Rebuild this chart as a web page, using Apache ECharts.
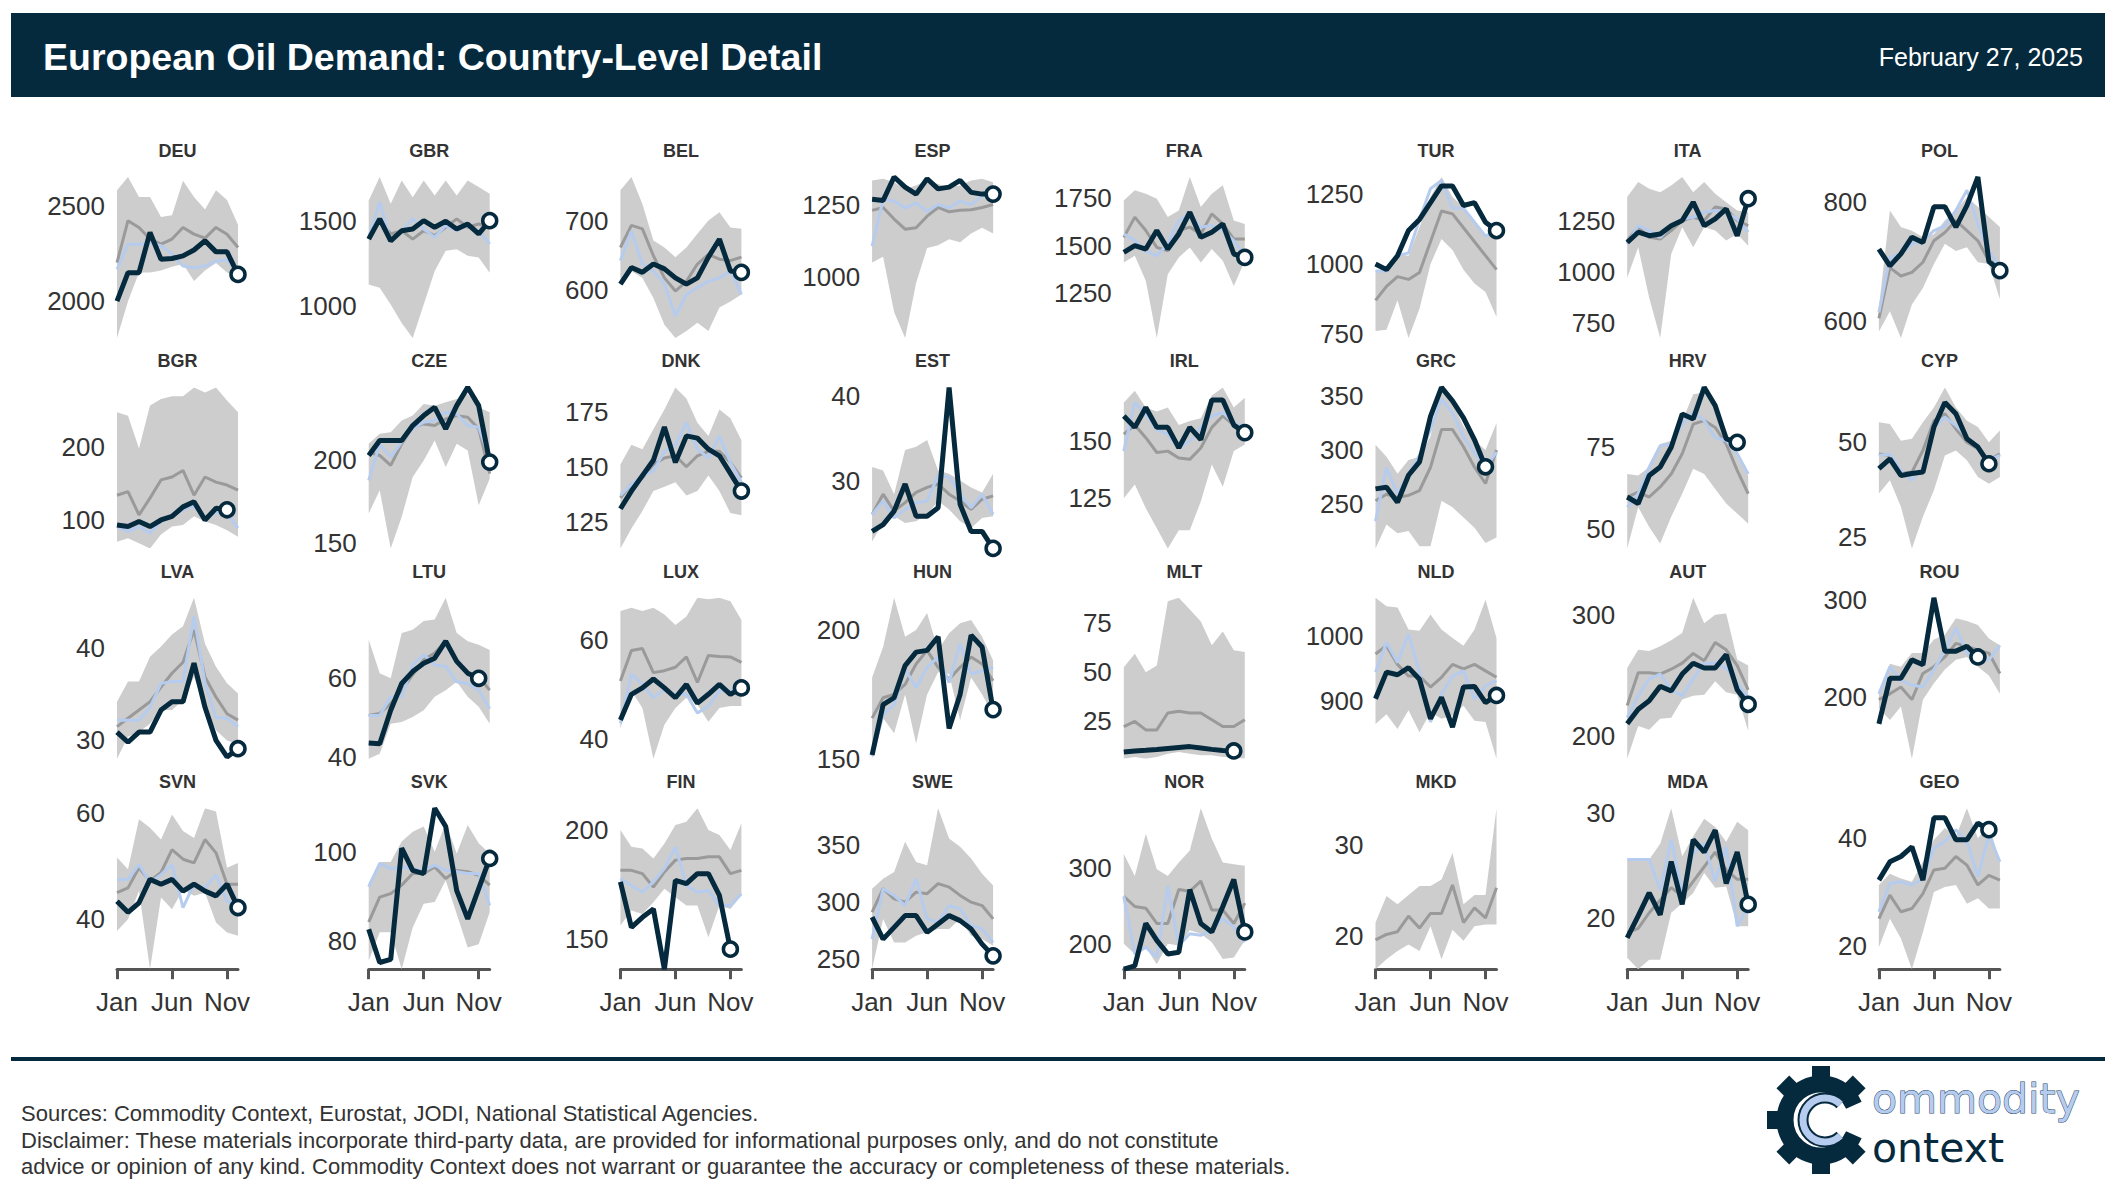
<!DOCTYPE html>
<html><head><meta charset="utf-8">
<script src="https://cdn.jsdelivr.net/npm/echarts@6/dist/echarts.min.js"></script>
<style>html,body{margin:0;padding:0;background:#fff}#c{width:2116px;height:1201px}</style>
</head><body><div id="c"></div>
<script>
const months = ['Jan','Feb','Mar','Apr','May','Jun','Jul','Aug','Sep','Oct','Nov','Dec'];
const xTickMonths = ['Jan','Jun','Nov'];
const countries = ['DEU','GBR','BEL','ESP','FRA','TUR','ITA','POL','BGR','CZE','DNK','EST','IRL','GRC','HRV','CYP','LVA','LTU','LUX','HUN','MLT','NLD','AUT','ROU','SVN','SVK','FIN','SWE','NOR','MKD','MDA','GEO'];
const yTicks = [[2000,2500],[1000,1500],[600,700],[1000,1250],[1250,1500,1750],[750,1000,1250],[750,1000,1250],[600,800],
  [100,200],[150,200],[125,150,175],[30,40],[125,150],[250,300,350],[50,75],[25,50],
  [30,40],[40,60],[40,60],[150,200],[25,50,75],[900,1000],[200,300],[200,300],
  [40,60],[80,100],[150,200],[250,300,350],[200,300],[20,30],[20,30],[20,40]];

// 5-year range, low edge
const bandLow = [
  [1807,2000,2150,2150,2160,2180,2195,2105,2160,2200,2150,2130],
  [1127,1108,1010,902,814,1010,1206,1324,1333,1294,1284,1196],
  [614,628,618,589,550,531,541,553,541,575,584,594],
  [1050,1070,880,790,980,1100,1110,1130,1120,1150,1170,1150],
  [1411,1447,1314,1012,1349,1438,1491,1411,1482,1420,1287,1420],
  [760,765,870,735,840,1000,1090,1050,980,930,900,810],
  [971,1119,873,676,1086,1217,1119,1217,1201,1152,1184,1127],
  [583,617,572,628,656,696,730,718,724,699,696,637],
  [70,75,68,61,80,91,93,105,98,93,86,77],
  [168,182,147,166,190,200,212,196,210,206,173,189],
  [113,122,130,139,141,143,137,139,146,139,129,128],
  [22.8,25,25.8,25,25.2,26,27.6,26.6,25.2,24.4,25.6,25.8],
  [125,131,120.6,111.8,103,111,111,123.5,139.7,130,145.6,148.5],
  [209,231,223,225,211,211,253,247,237.5,228,214,219],
  [43.9,56.6,50.5,45.4,53.6,60.7,68.4,66.8,62.2,57.7,54.6,51.5],
  [36.4,39.9,32.9,21.9,30.3,37.3,46.5,47.8,45.2,40.8,39,40.8],
  [28,30.4,30.9,31.8,33.3,33.3,34.4,36.9,33.6,31.1,30,29.6],
  [39.6,40.9,48.5,48.9,50.2,51.9,55.3,57,59.1,55.3,52.8,48.5],
  [42,49.7,46.2,35.9,42.8,46.2,48.3,46.9,43.4,46.2,46.6,46.6],
  [150,165.8,159.9,175,155.9,175,183.6,182.9,165.1,181.6,175,167.1],
  [6,6.9,6,6.9,8.6,9.5,8.6,7.8,7.8,6.9,6.9,6],
  [864,879,856,885,851,882,872,877,892,869,867,810],
  [181,208,205,214,215,230,233,234,245,236,234,204],
  [188,176,190,136,197,214,228,238,241,231,222,203],
  [37.8,40,45.3,30.6,44.1,41.9,45.6,44.4,45,39.4,37.5,36.9],
  [75.5,81.9,81.9,73.6,83,88.3,88.7,93.6,86,78.5,79.2,86.4],
  [156.2,163.1,161.5,166.9,173.1,169.2,165.4,165.4,150.8,165.4,163.8,170],
  [241.2,285.3,264.7,264.7,270.6,273.5,276.5,276.5,285.3,270.6,267.6,261.8],
  [200,186.7,195.6,173.3,200,197.8,217.8,213.3,202.2,180,182.2,204.4],
  [16.4,17.5,18.4,19.1,18.4,21.1,17.5,20.7,19.5,21.1,21.3,21.3],
  [16.2,15.1,16,16,20.5,21.4,22.4,24.3,22.9,23,19.2,19.2],
  [19.7,25,21.3,15.6,22.5,30,30.9,31.3,27.8,28.8,26.9,26.9]
];

// 5-year range, high edge
const bandHigh = [
  [2580,2650,2545,2545,2440,2450,2630,2545,2480,2580,2530,2400],
  [1618,1755,1598,1735,1637,1735,1647,1735,1647,1735,1696,1657],
  [745,764,725,672,662,648,662,682,701,713,691,689],
  [1333,1339,1327,1304,1316,1333,1321,1310,1316,1333,1339,1327],
  [1739,1793,1775,1748,1651,1686,1863,1704,1775,1819,1633,1615],
  [976,988,1036,1030,1132,1240,1312,1240,1204,1144,1096,1120],
  [1365,1438,1406,1389,1422,1463,1389,1438,1381,1340,1299,1291],
  [623,786,758,752,741,746,769,786,808,792,775,758],
  [248,243,198,257,266,270,270,282,275,282,264,248],
  [210,216,217,224,227,234,233,235,237,240,232,229],
  [151,160,158,167,176,186,181,170,164,176,172,162],
  [31.6,31.2,28.4,33.6,34,34.8,31.2,30.8,30,29.2,28.6,30.8],
  [166.9,172,164.7,163,164.7,157,158.8,160,170,173.5,164.7,169],
  [304.7,293.8,278,290.6,293.8,312.5,357.8,343.8,321.9,309,300,325],
  [66.8,66.3,68.9,76,77,83,91.3,91.8,87.2,80.1,72,66.3],
  [55.3,54.8,50.4,50.9,55.3,59.2,64.5,59.2,55.7,54,50,53.1],
  [34.2,36.4,36.4,39.1,40.2,41.5,42.4,45.5,40.5,38,36.2,35.1],
  [69.8,61.3,60,71.5,72.3,74.5,74.9,80.4,71.5,69.4,68.5,67.2],
  [65.9,66.6,65.9,66.6,65.2,63.1,64.8,68.6,68.3,68.6,67.9,64.1],
  [181.6,193.4,212.5,197.4,200,206.6,192.1,198.7,202.6,203.9,197.4,188.2],
  [52.6,59.5,50,53.4,86.2,87.9,81.9,75.9,63.8,70.7,61.2,60.3],
  [1059,1046,1044,1010,1008,1033,1010,997,985,1010,1056,997],
  [256,271,270,274,279,285,314,293,300,301,263,258],
  [205,234,231,245,245,259,264,281,278,274,260,253],
  [51.6,49.4,58.8,57.2,55,59.7,56.6,55.3,60.9,60.3,49.7,50.6],
  [93,97.7,97.7,102.3,104.5,105.7,100,106.4,99.6,106,101.9,99.6],
  [200,192.3,191.5,186.9,193.8,202.3,203.8,210,200,197.7,190.8,203.1],
  [311.8,320.6,326.5,353,335.3,332.4,382.4,355.9,348.5,338.2,325,314.7],
  [317.8,288.9,344.4,297.8,288.9,306.7,322.2,377.8,337.8,306.7,304.4,302.2],
  [21.5,24.4,23.5,24.5,25.5,25.5,26.2,29.1,23.5,24.5,24.5,34],
  [25.6,25.6,25.6,27.1,30.5,25.9,27.8,29.5,28.7,27.3,29.2,28.4],
  [31.3,33.4,32.5,31.9,35.6,39.7,41.9,40.3,45.6,40,42.5,35.6]
];

// 5-year average
const avg5y = [
  [2202,2421,2386,2325,2298,2325,2386,2351,2330,2386,2350,2281],
  [1402,1510,1422,1441,1392,1441,1412,1461,1510,1461,1480,1461],
  [662,694,689,650,618,599,613,638,652,645,643,648],
  [1230,1240,1200,1165,1170,1210,1240,1225,1230,1232,1240,1250],
  [1544,1651,1580,1491,1473,1580,1598,1562,1668,1615,1535,1535],
  [870,920,955,945,970,1080,1190,1180,1130,1080,1030,980],
  [1152,1217,1168,1160,1201,1250,1266,1250,1316,1307,1250,1225],
  [605,690,676,682,699,735,749,769,752,735,701,696],
  [134,139,107,130,155,159,168,134,159,152,148,141],
  [205,203,197,210,220,222,221,225,227,226,219,192],
  [136,142,145,151,154,155,150,155,157,157,152,145],
  [26,28.4,26.4,27.4,28.6,29.2,29.6,28.4,27.6,26.6,27.8,28.2],
  [153,157,151.5,145,145.6,142.6,142,147,156,161,157,154],
  [253,259,256,258,262.5,284,318.8,318.8,303,284,269,300],
  [59.7,61.2,59.7,62.8,66.8,73,82.1,83.2,81.1,76,67.9,60.7],
  [46.9,46.5,41.7,42.1,47.8,55.7,57.5,53.5,50,48.2,45.2,46.9],
  [31.5,32.4,33.3,34.2,35.8,37.3,38.5,42,36.9,34.7,32.9,32.2],
  [50.6,51.1,53.6,57,60.9,64.7,66.4,69.4,64.3,61.3,60.4,57],
  [51.7,57.9,58.3,53.4,53.8,54.5,56.6,51.4,56.9,56.7,56.6,55.5],
  [165.8,173.7,175,178.9,186.8,192.1,185.5,180.9,185.5,189.5,186.8,180.3],
  [22.4,25,20.7,20.7,29.3,30.2,29.3,29.3,25.9,22.4,22.4,25.9],
  [972,985,956,938,938,921,936,956,949,956,946,936],
  [225,252,252,251,255,260,268,262,277,271,258,238],
  [197,203,210,197,224,231,241,255,252,248,245,224],
  [45,45.9,49.7,47.2,48.8,53.1,51.3,50.6,55,52.5,46.6,46.6],
  [84.2,89.8,90.6,92.5,95.1,95.1,96.6,94,95.8,95.5,94.7,92.5],
  [181.5,181.5,180,173.8,180.8,186.2,186.9,186.9,187.7,187.7,180,181.5],
  [291.2,311.8,302.9,300,308.8,307.4,316.2,313.2,305.9,300,297,285.3],
  [262.2,248.9,246.7,226.7,226.7,271.1,268.9,282.2,244.4,244.4,226.7,253.3],
  [19.6,20.2,20.5,22.2,20.9,22.5,22.5,25.6,21.5,23.1,22,25.3],
  [18.6,19,20.5,21.7,22.9,22.1,23.5,24.9,26.3,24.6,23.7,23.7],
  [25,29.4,26.3,26.9,29.7,34.1,34.4,36.6,35,31.3,33.1,32.2]
];

// previous year
const prevYear = [
  [2167,2298,2298,2305,2290,2246,2184,2175,2184,2210,2215,2150],
  [1402,1608,1382,1441,1510,1451,1402,1471,1441,1471,1441,1363],
  [643,686,638,628,609,563,594,604,613,618,628,594],
  [1107,1268,1262,1238,1256,1226,1250,1238,1262,1250,1280,1286],
  [1562,1527,1473,1447,1509,1633,1668,1598,1607,1580,1527,1447],
  [975,975,1030,1040,1160,1270,1300,1200,1200,1150,1100,1120],
  [1135,1225,1201,1168,1225,1258,1266,1291,1299,1291,1258,1193],
  [615,707,713,730,735,752,760,786,820,763,718,690],
  [91,84,91,82,98,105,114,120,100,111,109,89],
  [188,210,202,211,219,223,224,229,228,221,220,201],
  [137,142,146,148,157,160,170,158,154,164,152,143],
  [26,27.6,25.6,26.6,27.4,27.6,30.6,30.4,28.4,26.8,28.4,26],
  [145.6,167,161.8,155,153,147,150,156,161,162.5,158,156],
  [234,284,259,278,295,318.8,347,334,312.5,297,284,298],
  [56.6,60.7,68.9,75.5,76,82.1,85.7,83.2,78,77,73,66.8],
  [46.5,46.9,42.5,39.9,43.4,54,56.6,54.4,51.3,48.2,45.2,46.5],
  [32.2,32.2,32.2,33.6,36.2,36.4,36.4,43.5,36.2,32.5,32.4,31.5],
  [50.6,50.6,55.3,55.3,63.4,66,63.4,63,59.1,58.7,57,52.3],
  [43.1,53.1,51,48.3,50,49,49,45.2,46.6,49.7,49.7,50.3],
  [151,167.1,171,184.9,177.6,185.5,189.5,179.6,194.7,182.9,184.2,185.5],
  null,
  [944,990,959,1003,944,867,910,938,946,902,923,931],
  [215,233,247,251,238,233,247,260,260,256,244,231],
  [203,231,217,212,210,228,248,271,245,241,238,253],
  [47.5,47.5,50.3,46.9,48.4,50.3,42.2,46.6,45.9,48.4,43.4,42.8],
  [92.1,97.4,96.2,96.6,96.2,95.8,97,95.8,95.5,95.1,95.1,87.9],
  [177.7,174.6,171.5,176.2,182.3,192.3,174.6,171.5,172.3,165.4,165.4,170.8],
  [267.6,311.8,305.9,297,320.6,285.3,282.4,297,294.1,279.4,276.5,264.7],
  [262.2,186.7,195.6,182.2,275.6,197.8,213.3,211.1,217.8,233.3,222.2,202.2],
  null,
  [25.6,25.6,25.6,22.7,27.5,22.4,26.2,27.1,23.5,26.8,19.2,21.1],
  [26.3,31.6,31.9,31.3,32.5,38.1,39.4,41.6,39.4,32.8,40.6,35.6]
];

// current year (2024)
const curYear = [
  [2000,2149,2149,2360,2219,2223,2237,2268,2316,2258,2258,2140],
  [1392,1510,1382,1441,1451,1500,1461,1496,1451,1480,1422,1500],
  [609,633,626,638,631,618,609,618,648,674,628,626],
  [1268,1264,1345,1310,1286,1339,1304,1310,1333,1292,1286,1286],
  [1465,1500,1482,1580,1482,1562,1677,1544,1571,1615,1456,1438],
  [1000,980,1030,1120,1160,1220,1280,1280,1210,1220,1150,1120],
  [1143,1193,1176,1184,1225,1250,1340,1225,1258,1307,1176,1357],
  [721,693,713,741,732,792,792,758,794,842,700,685],
  [93,91,98,91,100,105,118,125,100,116,114,null],
  [203,212,212,212,221,227,232,219,233,244,233,199],
  [131,139,146,153,168,152,164,163,158,155,147,139],
  [24,24.8,26.4,29.6,25.8,25.8,26.8,41,27.2,24,24,22],
  [161,156,164.7,156,156,147,156,150.7,168,168,157,153.7],
  [264,265.6,251.6,276.6,289,331,357.8,345.3,329.7,309.4,284.4,null],
  [59.7,57.7,66.3,68.9,75,85.2,83.7,93.4,87.8,77.6,76.5,null],
  [43,45.6,41.2,41.7,42.1,54,60.5,57.5,50.9,48.7,44.3,null],
  [30.9,29.8,30.9,30.9,33.3,34.2,34.2,38.4,33.6,30,28.2,29.1],
  [43.6,43.4,51.9,58.7,61.7,63.8,65.1,69.4,64.3,61.3,60,null],
  [43.8,49,50.3,52.1,50.3,48.3,51,47.2,49,51,49,50.3],
  [151.5,171,173.7,186.2,191.4,192.1,197.4,161.8,175,198,193.4,169.1],
  [9.5,10,10.3,10.7,11.2,11.7,12.2,11.5,10.8,10.2,10,null],
  [903,944,940,951,933,872,905,859,921,922,897,908],
  [210,222,229,241,237,251,260,256,256,267,238,226],
  [172,219,219,238,233,302,247,247,252,241,null,null],
  [43.4,41.3,43.1,47.5,46.6,47.5,45.3,46.6,45.3,44.4,46.6,42.2],
  [82.6,75.1,75.8,100.8,95.8,95.1,109.8,105.7,91.3,84.9,91.7,98.5],
  [176.2,155.4,160,163.8,136.2,176.9,175.4,180,180,170,145.4,null],
  [286.8,267.6,277.9,288.2,288.2,273.5,280.9,288.2,283.8,276.5,263.2,252.9],
  [166.7,171.1,226.7,204.4,186.7,188.9,271.1,226.7,215.6,248.9,284.4,215.6],
  null,
  [18.1,20.2,22.4,20.3,25.4,21.3,27.5,26.3,28.4,23.3,26.3,21.3],
  [32.2,35.6,36.6,38.4,32.2,43.8,43.8,39.7,39.7,42.8,41.6,null]
];

const FONT = '"Liberation Sans", Arial, Helvetica, sans-serif';
const LOGOFONT = '"DejaVu Sans", Verdana, sans-serif';
const NAVY = '#05293d';
const BAND = '#cdcdcd';
const AVG = '#9a9a9a';
const PREV = '#b6ccee';
const TXT = '#333333';

const chart = echarts.init(document.getElementById('c'), null, {renderer: 'svg', width: 2116, height: 1201});

const grids = [], xAxes = [], yAxes = [], series = [], graphics = [];
const tickShow = (idx, val) => xTickMonths.indexOf(val) >= 0;

countries.forEach((name, i) => {
  const col = i % 8, row = Math.floor(i / 8);
  const left = 117 + col * 251.7;
  const top = 177 + row * 210.4;
  const W = 121, H = 161;
  const bottomRow = row === 3;
  grids.push({left: left, top: top, width: W, height: H, containLabel: false, outerBoundsMode: 'none'});
  xAxes.push({
    type: 'category', gridIndex: i, data: months, boundaryGap: false, show: bottomRow,
    axisLine: {show: bottomRow, lineStyle: {color: '#555', width: 3}},
    axisTick: {show: bottomRow, interval: tickShow, length: 10, lineStyle: {color: '#555', width: 3}},
    axisLabel: {show: bottomRow, interval: tickShow, fontSize: 26, color: TXT, fontFamily: FONT, margin: 20},
    splitLine: {show: false}
  });
  yAxes.push({
    type: 'value', gridIndex: i, min: 'dataMin', max: 'dataMax',
    axisLine: {show: false}, axisTick: {show: false}, splitLine: {show: false},
    axisLabel: {customValues: yTicks[i], formatter: (v) => String(v), fontSize: 26, color: TXT, fontFamily: FONT, margin: 12}
  });
  graphics.push({type: 'text', x: left + W / 2, y: top - 26,
    style: {text: name, textAlign: 'center', textVerticalAlign: 'middle', font: 'bold 18px ' + FONT, fill: TXT}});

  const lo = bandLow[i], hi = bandHigh[i];
  series.push({type: 'line', name: name + ' low', xAxisIndex: i, yAxisIndex: i, data: lo, stack: 'band' + i,
    symbol: 'none', lineStyle: {opacity: 0, width: 0}, silent: true, z: 1});
  series.push({type: 'line', name: name + ' range', xAxisIndex: i, yAxisIndex: i,
    data: hi.map((v, k) => +(v - lo[k]).toFixed(4)), stack: 'band' + i,
    symbol: 'none', lineStyle: {opacity: 0, width: 0}, areaStyle: {color: BAND, opacity: 1}, silent: true, z: 1});
  series.push({type: 'line', name: name + ' 5y avg', xAxisIndex: i, yAxisIndex: i, data: avg5y[i],
    symbol: 'none', lineStyle: {color: AVG, width: 3}, clip: false, z: 2});
  if (prevYear[i]) {
    series.push({type: 'line', name: name + ' prev', xAxisIndex: i, yAxisIndex: i, data: prevYear[i],
      symbol: 'none', lineStyle: {color: PREV, width: 3}, clip: false, z: 3});
  }
  if (curYear[i]) {
    const cur = curYear[i];
    let last = -1;
    cur.forEach((v, k) => { if (v !== null) last = k; });
    series.push({type: 'line', name: name + ' current', xAxisIndex: i, yAxisIndex: i,
      data: cur.map((v, k) => k === last ? {value: v, symbol: 'circle', symbolSize: 14} : v),
      symbol: 'none', showAllSymbol: true, showSymbol: true,
      lineStyle: {color: NAVY, width: 5}, itemStyle: {color: '#fff', borderColor: NAVY, borderWidth: 3.5},
      clip: false, z: 4});
  }
});

// header, footer, logo
graphics.push({type: 'rect', shape: {x: 11, y: 13, width: 2094, height: 84}, style: {fill: NAVY}, z: 0});
graphics.push({type: 'text', x: 43, y: 57, style: {text: 'European Oil Demand: Country-Level Detail', textAlign: 'left', textVerticalAlign: 'middle', font: 'bold 37.5px ' + FONT, fill: '#ffffff'}});
graphics.push({type: 'text', x: 2083, y: 57, style: {text: 'February 27, 2025', textAlign: 'right', textVerticalAlign: 'middle', font: '25px ' + FONT, fill: '#ffffff'}});
graphics.push({type: 'rect', shape: {x: 11, y: 1057, width: 2094, height: 4}, style: {fill: NAVY}});
graphics.push({type: 'text', x: 21, y: 1113, style: {text: 'Sources: Commodity Context, Eurostat, JODI, National Statistical Agencies.', textAlign: 'left', textVerticalAlign: 'middle', font: '22px ' + FONT, fill: TXT}});
graphics.push({type: 'text', x: 21, y: 1140, style: {text: 'Disclaimer: These materials incorporate third-party data, are provided for informational purposes only, and do not constitute', textAlign: 'left', textVerticalAlign: 'middle', font: '22px ' + FONT, fill: TXT}});
graphics.push({type: 'text', x: 21, y: 1166, style: {text: 'advice or opinion of any kind. Commodity Context does not warrant or guarantee the accuracy or completeness of these materials.', textAlign: 'left', textVerticalAlign: 'middle', font: '22px ' + FONT, fill: TXT}});

const gx = 1821, gy = 1120;
for (let k = 1; k < 8; k++) {
  const a = k * Math.PI / 4;
  graphics.push({type: 'rect', x: gx + 45 * Math.cos(a), y: gy + 45 * Math.sin(a), rotation: a,
    shape: {x: -9, y: -9, width: 18, height: 18}, style: {fill: NAVY}});
}
graphics.push({type: 'arc', shape: {cx: gx, cy: gy, r: 36, startAngle: 0.42, endAngle: 2 * Math.PI - 0.42, clockwise: true},
  style: {stroke: NAVY, lineWidth: 17, fill: null}});
graphics.push({type: 'arc', shape: {cx: gx + 4, cy: gy, r: 22, startAngle: 0.8, endAngle: 2 * Math.PI - 0.8, clockwise: true},
  style: {stroke: NAVY, lineWidth: 11, fill: null}});
graphics.push({type: 'arc', shape: {cx: gx + 4, cy: gy, r: 22, startAngle: 0.8, endAngle: 2 * Math.PI - 0.8, clockwise: true},
  style: {stroke: PREV, lineWidth: 7, fill: null}});
graphics.push({type: 'text', x: 1872, y: 1099, style: {text: 'ommodity', textAlign: 'left', textVerticalAlign: 'middle', font: '41px ' + LOGOFONT, fill: PREV, stroke: '#2a4a66', lineWidth: 1}});
graphics.push({type: 'text', x: 1872, y: 1148, style: {text: 'ontext', textAlign: 'left', textVerticalAlign: 'middle', font: '41px ' + LOGOFONT, fill: NAVY}});

chart.setOption({
  animation: false,
  backgroundColor: '#ffffff',
  grid: grids, xAxis: xAxes, yAxis: yAxes, series: series,
  graphic: {elements: graphics}
});
</script></body></html>
